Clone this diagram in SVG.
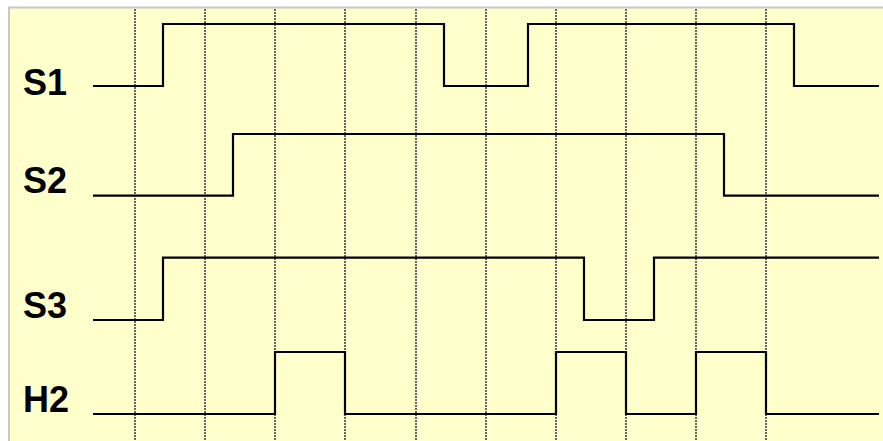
<svg xmlns="http://www.w3.org/2000/svg" width="883" height="441" viewBox="0 0 883 441">
  <style>
    .grid line { stroke: #666666; stroke-width: 2; stroke-dasharray: 2 1; }
    .sig { fill: none; stroke: #000000; stroke-width: 2.2; stroke-linejoin: miter; }
    .lbl { font-family: "Liberation Sans", Arial, sans-serif; font-weight: bold; font-size: 36px; fill: #000000; }
  </style>
  <rect x="0" y="0" width="883" height="441" fill="#FFFFFF"/>
  <rect x="9" y="7.5" width="900" height="460" fill="#FFFFCC" stroke="#C8C8C8" stroke-width="2"/>
  <g id="grid" class="grid">
    <line x1="135" y1="9" x2="135" y2="441"/>
    <line x1="205" y1="9" x2="205" y2="441"/>
    <line x1="275" y1="9" x2="275" y2="441"/>
    <line x1="345" y1="9" x2="345" y2="441"/>
    <line x1="416" y1="9" x2="416" y2="441"/>
    <line x1="486" y1="9" x2="486" y2="441"/>
    <line x1="556" y1="9" x2="556" y2="441"/>
    <line x1="626" y1="9" x2="626" y2="441"/>
    <line x1="696" y1="9" x2="696" y2="441"/>
    <line x1="766" y1="9" x2="766" y2="441"/>
  </g>
  <g id="connectors">
    <g id="S1">
      <text class="lbl" x="23" y="95">S1</text>
      <path class="sig" d="M93,86 H163 V24 H444 V86 H528 V24 H794 V86 H879"/>
    </g>
    <g id="S2">
      <text class="lbl" x="23" y="193">S2</text>
      <path class="sig" d="M93,195.7 H233 V134 H724 V195.7 H879"/>
    </g>
    <g id="S3">
      <text class="lbl" x="23" y="318">S3</text>
      <path class="sig" d="M93,320 H163 V257.7 H584 V320 H654 V257.7 H879"/>
    </g>
    <g id="H2">
      <text class="lbl" x="23" y="412">H2</text>
      <path class="sig" d="M93,414 H275 V352 H345 V414 H556 V352 H626 V414 H696 V352 H766 V414 H879"/>
    </g>
  </g>
</svg>
